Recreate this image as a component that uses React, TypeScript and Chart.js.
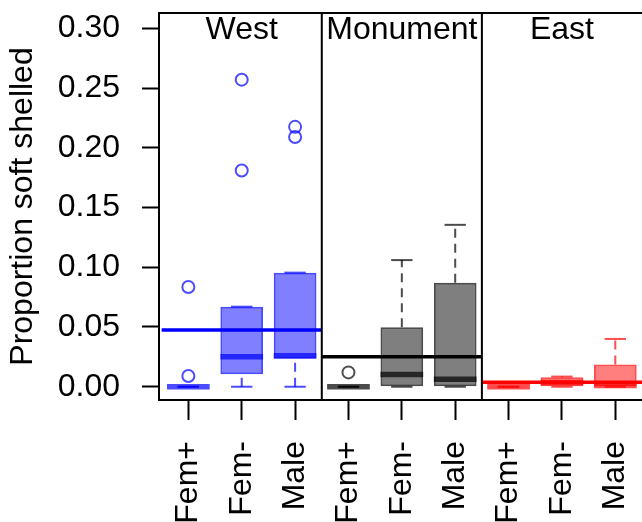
import { useEffect, useRef } from "react";
import { Chart, registerables } from "chart.js";

Chart.register(...registerables);

// ---------- data ----------
const sites = ["West", "Monument", "East"];
const categories = ["Fem+", "Fem-", "Male"];
const yTicks = [0, 0.05, 0.1, 0.15, 0.2, 0.25, 0.3];

const westLow = [0, 0, 0];
const westQ1 = [0, 0.0105, 0.0235];
const westMedian = [0, 0.025, 0.026];
const westQ3 = [0, 0.067, 0.0955];
const westHigh = [0, 0.067, 0.0955];
const westOutliers = [[0.0835, 0.009], [0.257, 0.181], [0.2175, 0.209]];
const westMean = 0.0475;

const monumentLow = [0, 0, 0];
const monumentQ1 = [0, 0, 0];
const monumentMedian = [0, 0.0102, 0.0063];
const monumentQ3 = [0, 0.0497, 0.087];
const monumentHigh = [0, 0.106, 0.1355];
const monumentOutliers = [[0.012], [], []];
const monumentMean = 0.0251;

const eastLow = [0, 0, 0];
const eastQ1 = [0, 0, 0];
const eastMedian = [0, 0.0035, 0.001];
const eastQ3 = [0, 0.0079, 0.0187];
const eastHigh = [0, 0.0085, 0.04];
const eastOutliers = [[], [], []];
const eastMean = 0.0037;

// ---------- styles ----------
const FONT = "'Liberation Sans', Arial, Helvetica, sans-serif";
const X_MIN = 0.45;
const X_MAX = 9.5;
const Y_MIN = -0.0111;
const Y_MAX = 0.3128;

const groups = [
  { site: sites[0], low: westLow, q1: westQ1, med: westMedian, q3: westQ3, high: westHigh, out: westOutliers, mean: westMean, rgb: "0,0,255", meanColor: "#0000ff" },
  { site: sites[1], low: monumentLow, q1: monumentQ1, med: monumentMedian, q3: monumentQ3, high: monumentHigh, out: monumentOutliers, mean: monumentMean, rgb: "0,0,0", meanColor: "#000000" },
  { site: sites[2], low: eastLow, q1: eastQ1, med: eastMedian, q3: eastQ3, high: eastHigh, out: eastOutliers, mean: eastMean, rgb: "255,0,0", meanColor: "#ff0000" },
];

const n = categories.length;
const pos = (gi: number, i: number) => gi * n + i + 1;

const unitPx = (ctx: any, frac: number) => {
  const s = ctx.chart.scales?.x;
  if (!s) return 10;
  return Math.abs(s.getPixelForValue(1 + frac) - s.getPixelForValue(1));
};

function buildDatasets() {
  const ds: any[] = [];
  groups.forEach((g, gi) => {
    const border = `rgba(${g.rgb},0.7)`;
    const fill = `rgba(${g.rgb},0.5)`;
    // boxes
    ds.push({
      type: "bar",
      data: categories.map((_, i) => ({ x: pos(gi, i), y: [g.q1[i], g.q3[i]] })),
      backgroundColor: fill,
      borderColor: border,
      borderWidth: 2,
      borderSkipped: false,
      grouped: false,
      categoryPercentage: 0.8,
      barPercentage: 1,
      order: 6,
    });
    // whiskers
    const wd: any[] = [];
    categories.forEach((_, i) => {
      const x = pos(gi, i);
      if (g.low[i] < g.q1[i]) wd.push({ x, y: g.low[i] }, { x, y: g.q1[i] }, { x, y: null });
      if (g.high[i] > g.q3[i]) wd.push({ x, y: g.q3[i] }, { x, y: g.high[i] }, { x, y: null });
    });
    ds.push({
      type: "line",
      data: wd,
      borderColor: border,
      borderWidth: 2,
      borderDash: [9, 6],
      pointRadius: 0,
      spanGaps: false,
      fill: false,
      order: 5,
    });
    // caps
    const cd: any[] = [];
    categories.forEach((_, i) => {
      cd.push({ x: pos(gi, i), y: g.low[i] }, { x: pos(gi, i), y: g.high[i] });
    });
    ds.push({
      type: "scatter",
      data: cd,
      pointStyle: "line",
      radius: (ctx: any) => unitPx(ctx, 0.2),
      borderColor: border,
      borderWidth: 2,
      order: 4,
    });
    // medians
    ds.push({
      type: "scatter",
      data: categories.map((_, i) => ({ x: pos(gi, i), y: g.med[i] })),
      pointStyle: "line",
      radius: (ctx: any) => unitPx(ctx, 0.4),
      borderColor: border,
      borderWidth: 5.5,
      order: 3,
    });
    // outliers
    const od: any[] = [];
    categories.forEach((_, i) => g.out[i].forEach((v) => od.push({ x: pos(gi, i), y: v })));
    ds.push({
      type: "scatter",
      data: od,
      pointStyle: "circle",
      radius: 6,
      borderColor: border,
      backgroundColor: "rgba(0,0,0,0)",
      borderWidth: 2,
      order: 2,
    });
    // mean line across the panel
    const start = Math.max(X_MIN, gi * n + 0.5);
    const end = Math.min(X_MAX, gi * n + n + 0.5);
    ds.push({
      type: "line",
      data: [{ x: start, y: g.mean }, { x: end, y: g.mean }],
      borderColor: g.meanColor,
      borderWidth: 3.5,
      pointRadius: 0,
      fill: false,
      order: 1,
    });
  });
  return ds;
}

const panelPlugin = {
  id: "panels",
  afterDatasetsDraw(chart: any) {
    const { ctx, chartArea } = chart;
    const xs = chart.scales.x;
    ctx.save();
    ctx.strokeStyle = "#000";
    ctx.lineWidth = 2;
    ctx.beginPath();
    ctx.moveTo(chartArea.right + 2, chartArea.top);
    ctx.lineTo(chartArea.left, chartArea.top);
    ctx.lineTo(chartArea.left, chartArea.bottom);
    ctx.lineTo(chartArea.right + 2, chartArea.bottom);
    for (let gi = 1; gi < groups.length; gi++) {
      const px = xs.getPixelForValue(gi * n + 0.5);
      ctx.moveTo(px, chartArea.top);
      ctx.lineTo(px, chartArea.bottom);
    }
    ctx.stroke();
    ctx.fillStyle = "#000";
    ctx.font = `32px ${FONT}`;
    ctx.textAlign = "center";
    ctx.textBaseline = "alphabetic";
    groups.forEach((g, gi) => {
      const px = xs.getPixelForValue(gi * n + (n + 1) / 2);
      ctx.fillText(g.site, px, chartArea.top + 26);
    });
    ctx.restore();
  },
};

export default function App() {
  const ref = useRef<HTMLCanvasElement>(null);
  useEffect(() => {
    if (!ref.current) return;
    Chart.defaults.font.family = FONT;
    Chart.defaults.color = "#000";
    const chart = new Chart(ref.current, {
      type: "bar",
      data: { datasets: buildDatasets() },
      options: {
        animation: false,
        responsive: false,
        events: [],
        layout: { autoPadding: false, padding: { top: 13, left: 0, right: 0, bottom: 0 } },
        plugins: { legend: { display: false }, tooltip: { enabled: false } },
        scales: {
          x: {
            type: "linear",
            min: X_MIN,
            max: X_MAX,
            bounds: "data",
            offset: false,
            afterBuildTicks: (s: any) => {
              const t: any[] = [];
              groups.forEach((_, gi) => categories.forEach((__, i) => t.push({ value: pos(gi, i) })));
              s.ticks = t;
            },
            afterFit: (s: any) => {
              s.height = 122;
              s.paddingLeft = 0;
              s.paddingRight = 0;
            },
            ticks: {
              autoSkip: false,
              minRotation: 90,
              maxRotation: 90,
              padding: 21,
              font: { size: 32, family: FONT },
              color: "#000",
              callback: (v: any) => categories[(Math.round(v) - 1) % n],
            },
            grid: { drawOnChartArea: false, drawTicks: true, tickLength: 20, tickColor: "#000", tickWidth: 2, offset: false },
            border: { display: false },
          },
          y: {
            type: "linear",
            min: Y_MIN,
            max: Y_MAX,
            bounds: "data",
            afterBuildTicks: (s: any) => {
              s.ticks = yTicks.map((v) => ({ value: v }));
            },
            afterFit: (s: any) => {
              s.width = 159;
              s.paddingTop = 0;
              s.paddingBottom = 0;
            },
            ticks: {
              padding: 22,
              font: { size: 32, family: FONT },
              color: "#000",
              callback: (v: any) => Number(v).toFixed(2),
            },
            grid: { drawOnChartArea: false, drawTicks: true, tickLength: 17, tickColor: "#000", tickWidth: 2 },
            border: { display: false },
            title: {
              display: true,
              text: "Proportion soft shelled",
              font: { size: 32, family: FONT },
              color: "#000",
              padding: { top: 4, bottom: 0 },
            },
          },
        },
      } as any,
      plugins: [panelPlugin],
    });
    return () => chart.destroy();
  }, []);
  return (
    <div style={{ position: "fixed", left: 0, top: 0, width: 642, height: 522, background: "#fff" }}>
      <canvas ref={ref} width={642} height={522} style={{ display: "block" }} />
    </div>
  );
}
